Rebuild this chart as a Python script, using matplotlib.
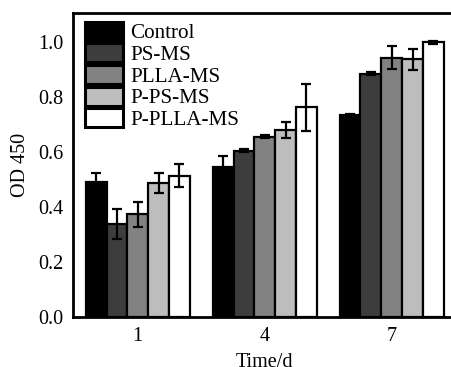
import matplotlib
matplotlib.use("Agg")
import matplotlib.pyplot as plt
import numpy as np

plt.rcParams['font.family'] = ['Liberation Serif', 'DejaVu Serif']

days = ["1", "4", "7"]
groups = ["Control", "PS-MS", "PLLA-MS", "P-PS-MS", "P-PLLA-MS"]
colors = ["#000000", "#3d3d3d", "#828282", "#bdbdbd", "#ffffff"]

values = {
    "Control":   [0.492, 0.546, 0.733],
    "PS-MS":     [0.337, 0.605, 0.885],
    "PLLA-MS":   [0.373, 0.656, 0.942],
    "P-PS-MS":   [0.487, 0.680, 0.936],
    "P-PLLA-MS": [0.514, 0.762, 0.999],
}
errors = {
    "Control":   [0.030, 0.040, 0.004],
    "PS-MS":     [0.055, 0.004, 0.004],
    "PLLA-MS":   [0.046, 0.004, 0.042],
    "P-PS-MS":   [0.036, 0.030, 0.039],
    "P-PLLA-MS": [0.043, 0.086, 0.005],
}

W, H = 451, 367
fig = plt.figure(figsize=(W / 100, H / 100), dpi=100)
left = 73 / W
bottom = (H - 317) / H
top = (H - 13) / H
width = 383.5 / W
ax = fig.add_axes([left, bottom, width, top - bottom])

x = np.arange(len(days))
bw = 0.164
for i, g in enumerate(groups):
    ax.bar(x + (i - 2) * bw, values[g], bw, color=colors[i], edgecolor="black",
           linewidth=1.6, label=g, zorder=2,
           yerr=errors[g], error_kw=dict(ecolor="black", elinewidth=1.6,
                                          capsize=3.6, capthick=1.6, zorder=3))

ax.set_xlim(-0.51, 2.51)
ax.set_ylim(0, 1.105)
ax.set_xticks(x)
ax.set_xticklabels(days)
ax.set_yticks(np.arange(0, 1.01, 0.2))
ax.set_yticklabels([f"{v:.1f}" for v in np.arange(0, 1.01, 0.2)])
ax.tick_params(axis="both", length=0, labelsize=14.5, pad=7)
for s in ax.spines.values():
    s.set_linewidth(2.0)
ax.spines["right"].set_visible(False)
ax.set_xlabel("Time/d", fontsize=14.5, labelpad=5)
ax.set_ylabel("OD 450", fontsize=14.5, labelpad=6)

leg = ax.legend(loc="upper left", bbox_to_anchor=(0.02, 0.985), frameon=False,
                fontsize=15.2, handlelength=1.8, handleheight=1.0,
                labelspacing=0.0, handletextpad=0.35, borderaxespad=0.0,
                borderpad=0.2)
for p in leg.get_patches():
    p.set_linewidth(2.2)

fig.savefig("out.png", dpi=100)
